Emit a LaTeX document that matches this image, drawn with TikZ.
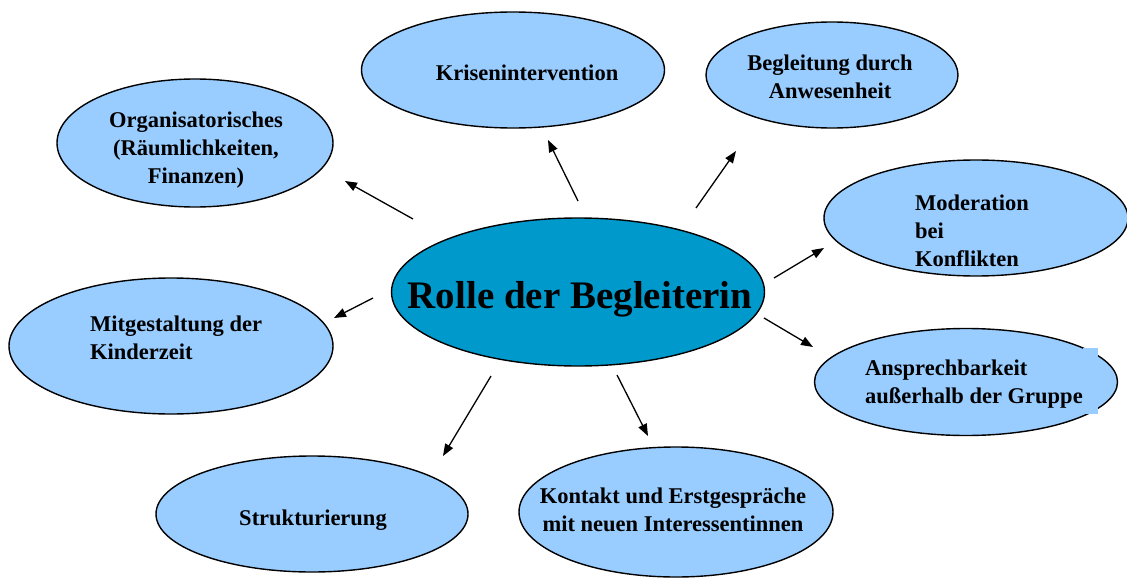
\documentclass[tikz,border=0pt]{standalone}
\usepackage{fontspec}
\setmainfont{Liberation Serif}
\usepackage{tikz}
\usetikzlibrary{arrows.meta,shapes.geometric,positioning}
\definecolor{bubbleBlue}{RGB}{153,204,255}
\definecolor{hubBlue}{RGB}{0,153,204}
\tikzset{Bubble/.style={ellipse,draw,fill=bubbleBlue,line width=1.4pt,inner sep=0pt}}
\tikzset{Hub/.style={ellipse,draw,fill=hubBlue,line width=1.4pt,inner sep=0pt}}
\tikzset{BubbleText/.style={font=\fontsize{22.5}{28}\selectfont\bfseries,inner sep=0pt}}
\tikzset{Spoke/.style={->,line width=1.3pt}}

\begin{document}
\begin{tikzpicture}[x=1pt,y=-1pt,>={Triangle[length=12pt,width=9pt]}]
\useasboundingbox (0,0) rectangle (1127,578);
\node (hub) at (578,292) [Hub,minimum width=373pt,minimum height=148pt] {};
\node (hubT) at (580,308) [BubbleText,anchor=base,font=\fontsize{39}{44}\selectfont\bfseries] {Rolle der Begleiterin};
\node (kris) at (513,70) [Bubble,minimum width=303pt,minimum height=116pt] {};
\node (krisT) at (527,81) [BubbleText,anchor=base] {Krisenintervention};
\node (begl) at (832,75) [Bubble,minimum width=252pt,minimum height=106pt] {};
\node (beglT) at (830,77) [BubbleText,align=center] {Begleitung durch\\Anwesenheit};
\node (orga) at (195,143) [Bubble,minimum width=276pt,minimum height=128pt] {};
\node (orgaT) at (196,150) [BubbleText,align=center] {Organisatorisches\\(Räumlichkeiten,\\Finanzen)};
\node (moder) at (976,218) [Bubble,minimum width=304pt,minimum height=116pt] {};
\node (moderT) at (915,231) [BubbleText,align=left,anchor=west] {Moderation\\bei\\Konflikten};
\node (mitge) at (171,346) [Bubble,minimum width=324pt,minimum height=136pt] {};
\node (mitgeT) at (90,338) [BubbleText,align=left,anchor=west] {Mitgestaltung der\\Kinderzeit};
\node (ansp) at (966,382) [Bubble,minimum width=303pt,minimum height=107pt] {};
\fill [bubbleBlue] (1083,348) rectangle (1098,414);
\node (anspT) at (865,384) [BubbleText,align=left,anchor=west] {Ansprechbarkeit\\außerhalb der Gruppe};
\node (struk) at (312,514) [Bubble,minimum width=312pt,minimum height=116pt] {};
\node (strukT) at (313,525) [BubbleText,anchor=base] {Strukturierung};
\node (kont) at (676,512) [Bubble,minimum width=314pt,minimum height=130pt] {};
\node (kontT) at (673,510) [BubbleText,align=center] {Kontakt und Erstgespräche\\ mit neuen Interessentinnen};
% arrow ends
\coordinate (orgaS) at (413,219);
\coordinate (orgaE) at (345,181);
\coordinate (krisS) at (578,201);
\coordinate (krisE) at (548,140);
\coordinate (beglS) at (696,208);
\coordinate (beglE) at (736,151);
\coordinate (moderS) at (774,278);
\coordinate (moderE) at (824,248);
\coordinate (anspS) at (764,318);
\coordinate (anspE) at (813,347);
\coordinate (kontS) at (617,375);
\coordinate (kontE) at (648,436);
\coordinate (strukS) at (491,376);
\coordinate (strukE) at (443,456);
\coordinate (mitgeS) at (373,298);
\coordinate (mitgeE) at (334,318);
\draw [Spoke] (orgaS) -- (orgaE);
\draw [Spoke] (krisS) -- (krisE);
\draw [Spoke] (beglS) -- (beglE);
\draw [Spoke] (moderS) -- (moderE);
\draw [Spoke] (anspS) -- (anspE);
\draw [Spoke] (kontS) -- (kontE);
\draw [Spoke] (strukS) -- (strukE);
\draw [Spoke] (mitgeS) -- (mitgeE);
\end{tikzpicture}
\end{document}
